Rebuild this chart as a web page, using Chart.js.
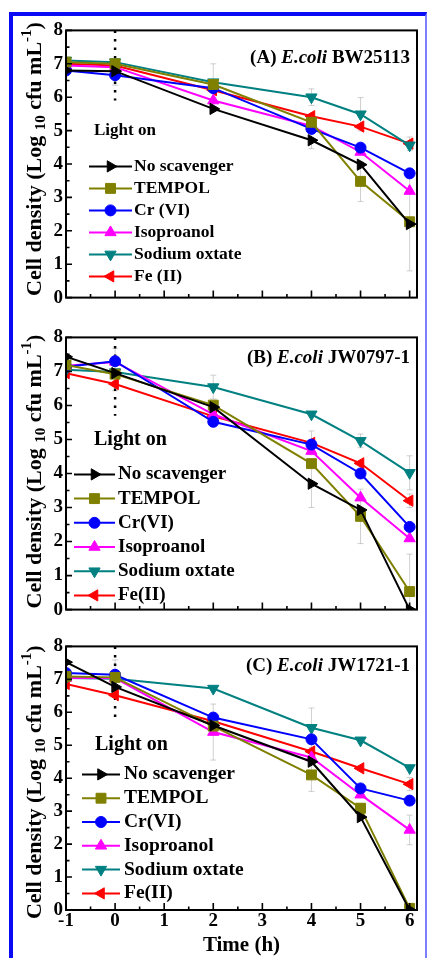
<!DOCTYPE html>
<html>
<head>
<title>Cell density under light</title>
<script src="https://cdn.jsdelivr.net/npm/chart.js"></script>
<style>
  body { margin: 0; background: #fff; width: 428px; height: 958px; overflow: hidden; position: relative; }
  #frame { position: absolute; left: 9px; top: 12px; width: 412px; height: 960px;
           border-left: 4px solid #0a0af5; border-top: 4px solid #0a0af5; border-right: 2px solid #7d7dff; }
  canvas { position: absolute; left: 13px; }
</style>
</head>
<body>
<div id="frame"></div>
<canvas id="panelA" width="412" height="296" style="top:16px"></canvas>
<canvas id="panelB" width="412" height="301" style="top:323px"></canvas>
<canvas id="panelC" width="412" height="326" style="top:632px"></canvas>

<script>
// sampling times (h) and axis ticks
const timeH = [-1, 0, 2, 4, 5, 6];
const timeTicks = [-1, 0, 1, 2, 3, 4, 5, 6];
const densityTicks = [0, 1, 2, 3, 4, 5, 6, 7, 8];
const lightOnTime = 0;

const labelsA = ['No scavenger', 'TEMPOL', 'Cr (VI)', 'Isoproanol', 'Sodium oxtate', 'Fe (II)'];
const labelsB = ['No scavenger', 'TEMPOL', 'Cr(VI)', 'Isoproanol', 'Sodium oxtate', 'Fe(II)'];
const labelsC = ['No scavenger', 'TEMPOL', 'Cr(VI)', 'Isoproanol', 'Sodium oxtate', 'Fe(II)'];

// (A) E.coli BW25113
const a_none   = [6.80, 6.78, 5.65, 4.71, 3.98, 2.20];
const a_tempol = [7.05, 7.00, 6.38, 5.25, 3.48, 2.27];
const a_cr     = [6.80, 6.66, 6.27, 5.05, 4.49, 3.72];
const a_iso    = [6.95, 6.90, 5.90, 5.14, 4.36, 3.19];
const a_oxa    = [7.10, 7.05, 6.45, 6.00, 5.49, 4.56];
const a_fe     = [7.00, 6.95, 6.21, 5.43, 5.12, 4.61];
const a_err_none   = [0, 0, 0, 0.25, 0, 1.4];
const a_err_tempol = [0, 0, 0, 0, 0.6, 0];
const a_err_cr     = [0, 0.3, 0, 0, 0, 0];
const a_err_iso    = [0, 0, 0, 0, 0, 0];
const a_err_oxa    = [0, 0, 0.55, 0.25, 0.5, 0];
const a_err_fe     = [0, 0.2, 0, 0, 0, 0.2];

// (B) E.coli JW0797-1
const b_none   = [7.43, 6.95, 5.95, 3.70, 2.93, 0.00];
const b_tempol = [7.19, 6.92, 6.01, 4.29, 2.74, 0.53];
const b_cr     = [7.14, 7.30, 5.52, 4.85, 4.00, 2.43];
const b_iso    = [7.17, 7.28, 5.74, 4.66, 3.29, 2.09];
const b_oxa    = [7.05, 6.98, 6.54, 5.74, 4.96, 4.02];
const b_fe     = [6.95, 6.63, 5.68, 4.90, 4.30, 3.20];
const b_err_none   = [0, 0, 0, 0.7, 0, 0];
const b_err_tempol = [0, 0, 0, 0, 0.8, 1.1];
const b_err_cr     = [0, 0, 0, 0, 0, 0];
const b_err_iso    = [0, 0.4, 0, 0, 0, 0];
const b_err_oxa    = [0, 0, 0.35, 0, 0.2, 0.5];
const b_err_fe     = [0, 0.2, 0, 0.35, 0, 0.2];

// (C) E.coli JW1721-1
const c_none   = [7.52, 6.77, 5.60, 4.50, 2.82, 0.00];
const c_tempol = [7.09, 7.06, 5.58, 4.10, 3.09, 0.05];
const c_cr     = [7.19, 7.14, 5.84, 5.18, 3.69, 3.32];
const c_iso    = [7.04, 7.04, 5.40, 4.63, 3.50, 2.43];
const c_oxa    = [7.04, 7.02, 6.72, 5.53, 5.15, 4.31];
const c_fe     = [6.86, 6.52, 5.73, 4.81, 4.30, 3.82];
const c_err_none   = [0, 0, 0, 0, 0, 0];
const c_err_tempol = [0, 0, 0, 0.5, 0, 0];
const c_err_cr     = [0, 0.45, 0, 0, 0, 0];
const c_err_iso    = [0, 0, 0.85, 0, 0, 0.45];
const c_err_oxa    = [0, 0, 0, 0.6, 0, 0];
const c_err_fe     = [0, 0, 0, 0, 0, 0.2];

const serif = '"Liberation Serif", "Times New Roman", serif';
const seriesStyle = [
  { color: '#000000', pointStyle: 'triangle', rotation: 90,  radius: 6.5 },
  { color: '#808000', pointStyle: 'rect',     rotation: 0,   radius: 7 },
  { color: '#0000ff', pointStyle: 'circle',   rotation: 0,   radius: 5.5 },
  { color: '#ff00ff', pointStyle: 'triangle', rotation: 0,   radius: 6.5 },
  { color: '#008080', pointStyle: 'triangle', rotation: 180, radius: 6.5 },
  { color: '#ff0000', pointStyle: 'triangle', rotation: -90, radius: 6.5 }
];

const errorBars = {
  id: 'errorBars',
  beforeDatasetsDraw(chart) {
    const { ctx, scales: { x, y } } = chart;
    ctx.save();
    ctx.strokeStyle = 'rgba(150,150,150,0.45)';
    ctx.lineWidth = 1;
    chart.data.datasets.forEach(ds => {
      ds.data.forEach((pt, j) => {
        const e = ds.err[j];
        if (!e) return;
        const px = x.getPixelForValue(pt.x);
        const top = y.getPixelForValue(pt.y + e);
        const bot = y.getPixelForValue(Math.max(pt.y - e, 0));
        ctx.beginPath();
        ctx.moveTo(px, top); ctx.lineTo(px, bot);
        ctx.moveTo(px - 3, top); ctx.lineTo(px + 3, top);
        ctx.moveTo(px - 3, bot); ctx.lineTo(px + 3, bot);
        ctx.stroke();
      });
    });
    // dotted "light on" marker
    const a = chart.chartArea;
    const x0 = x.getPixelForValue(lightOnTime);
    ctx.strokeStyle = '#000';
    ctx.lineWidth = 2.5;
    ctx.setLineDash([2.5, 6]);
    ctx.beginPath();
    ctx.moveTo(x0, a.top);
    ctx.lineTo(x0, y.getPixelForValue(chart.options.panel.markerEnd));
    ctx.stroke();
    ctx.restore();
  }
};

function drawMixed(ctx, parts, x, y) {
  // parts: [text, fontString, dy]
  let cx = x;
  parts.forEach(([t, f, dy]) => {
    ctx.font = f;
    ctx.fillText(t, cx, y + (dy || 0));
    cx += ctx.measureText(t).width;
  });
  return cx - x;
}
function mixedWidth(ctx, parts) {
  let w = 0;
  parts.forEach(([t, f]) => { ctx.font = f; w += ctx.measureText(t).width; });
  return w;
}

const decorations = {
  id: 'decorations',
  afterDraw(chart) {
    const { ctx, chartArea: a, scales: { x, y } } = chart;
    const p = chart.options.panel;
    ctx.save();
    // frame and inward ticks
    ctx.strokeStyle = '#000';
    ctx.lineWidth = 2;
    ctx.strokeRect(a.left, a.top, a.right - a.left, a.bottom - a.top);
    ctx.lineWidth = 1.6;
    ctx.beginPath();
    timeTicks.forEach((t, k) => {
      let px = x.getPixelForValue(t);
      ctx.moveTo(px, a.bottom); ctx.lineTo(px, a.bottom - 7);
      if (k < timeTicks.length - 1) {
        px = x.getPixelForValue(t + 0.5);
        ctx.moveTo(px, a.bottom); ctx.lineTo(px, a.bottom - 3.5);
      }
    });
    densityTicks.forEach((t, k) => {
      let py = y.getPixelForValue(t);
      ctx.moveTo(a.left, py); ctx.lineTo(a.left + 6, py);
      if (k < densityTicks.length - 1) {
        py = y.getPixelForValue(t + 0.5);
        ctx.moveTo(a.left, py); ctx.lineTo(a.left + 3.5, py);
      }
    });
    ctx.stroke();

    ctx.fillStyle = '#000';
    ctx.textBaseline = 'alphabetic';
    // panel title
    const tf = 'bold ' + p.titleSize + 'px ' + serif;
    const tfi = 'italic bold ' + p.titleSize + 'px ' + serif;
    const tparts = [[p.title[0], tf], [p.title[1], tfi], [p.title[2], tf]];
    const tw = mixedWidth(ctx, tparts);
    drawMixed(ctx, tparts, a.right - 7 - tw, a.top + p.titleDy);

    // y-axis title, rotated
    const yf = 'bold 22px ' + serif;
    const ys = 'bold 15px ' + serif;
    const yparts = [['Cell density (Log ', yf, 0], ['10', ys, 4], [' cfu mL', yf, 0], ['-1', ys, -10], [')', yf, 0]];
    const yw = mixedWidth(ctx, yparts);
    ctx.save();
    ctx.translate(28, (a.top + a.bottom) / 2 + p.yTitleShift);
    ctx.rotate(-Math.PI / 2);
    drawMixed(ctx, yparts, -yw / 2, 0);
    ctx.restore();

    // "Light on" note and legend
    ctx.textBaseline = 'middle';
    ctx.font = 'bold ' + p.noteSize + 'px ' + serif;
    ctx.fillText('Light on', a.left + p.noteX, a.top + p.noteY);
    ctx.font = 'bold ' + p.legendSize + 'px ' + serif;
    chart.data.datasets.forEach((ds, i) => {
      const ry = a.top + p.legendTop + i * p.legendStep;
      const st = seriesStyle[i];
      ctx.strokeStyle = st.color;
      ctx.fillStyle = st.color;
      ctx.lineWidth = 2;
      ctx.beginPath();
      ctx.moveTo(a.left + p.lineX0, ry);
      ctx.lineTo(a.left + p.lineX1, ry);
      ctx.stroke();
      ctx.lineWidth = 1;
      Chart.helpers.drawPoint(ctx, { pointStyle: st.pointStyle, rotation: st.rotation, radius: st.radius, borderWidth: 1 },
        a.left + (p.lineX0 + p.lineX1) / 2, ry);
      ctx.fillStyle = '#000';
      ctx.fillText(ds.label, a.left + p.textX, ry);
    });
    ctx.restore();
  }
};

function buildPanel(id, p) {
  const datasets = p.series.map((vals, i) => ({
    label: p.labels[i],
    data: vals.map((v, j) => ({ x: timeH[j], y: v })),
    err: p.errors[i],
    borderColor: seriesStyle[i].color,
    backgroundColor: seriesStyle[i].color,
    borderWidth: 2,
    pointStyle: seriesStyle[i].pointStyle,
    pointRotation: seriesStyle[i].rotation,
    pointRadius: seriesStyle[i].radius,
    pointBorderWidth: 1,
    tension: 0
  }));
  return new Chart(document.getElementById(id), {
    type: 'line',
    data: { datasets },
    plugins: [errorBars, decorations],
    options: {
      responsive: false,
      animation: false,
      panel: p,
      layout: { padding: { top: p.padTop, right: 4, bottom: 0, left: 0 } },
      plugins: { legend: { display: false }, tooltip: { enabled: false } },
      scales: {
        x: {
          type: 'linear', min: -1, max: 6.15,
          grid: { display: false, drawTicks: false },
          border: { display: false },
          afterBuildTicks: s => { s.ticks = timeTicks.map(v => ({ value: v })); },
          ticks: { display: p.showTime, color: '#000', padding: 0, maxRotation: 0, autoSkip: false,
                   font: { family: serif, size: 19, weight: 'bold' } },
          title: { display: p.showTime, text: 'Time (h)', color: '#000', padding: 0,
                   font: { family: serif, size: 21, weight: 'bold' } },
          afterFit: s => { s.height = p.xAxisHeight; }
        },
        y: {
          min: 0, max: 8,
          grid: { display: false, drawTicks: false },
          border: { display: false },
          afterBuildTicks: s => { s.ticks = densityTicks.map(v => ({ value: v })); },
          ticks: { color: '#000', padding: 3, font: { family: serif, size: 19, weight: 'bold' } },
          afterFit: s => { s.width = 53; }
        }
      }
    }
  });
}

buildPanel('panelA', {
  labels: labelsA,
  series: [a_none, a_tempol, a_cr, a_iso, a_oxa, a_fe],
  errors: [a_err_none, a_err_tempol, a_err_cr, a_err_iso, a_err_oxa, a_err_fe],
  title: ['(A) ', 'E.coli', ' BW25113'],
  titleSize: 19, titleDy: 33,
  padTop: 12, xAxisHeight: 10, showTime: false, markerEnd: 5.9, yTitleShift: -5,
  noteSize: 17, noteX: 28, noteY: 100,
  legendSize: 17.5, legendTop: 136, legendStep: 22, lineX0: 23, lineX1: 66, textX: 68
});

buildPanel('panelB', {
  labels: labelsB,
  series: [b_none, b_tempol, b_cr, b_iso, b_oxa, b_fe],
  errors: [b_err_none, b_err_tempol, b_err_cr, b_err_iso, b_err_oxa, b_err_fe],
  title: ['(B) ', 'E.coli', ' JW0797-1'],
  titleSize: 19, titleDy: 26,
  padTop: 12, xAxisHeight: 10, showTime: false, markerEnd: 5.7, yTitleShift: -2,
  noteSize: 20, noteX: 28, noteY: 102,
  legendSize: 19, legendTop: 137, legendStep: 24.2, lineX0: 8, lineX1: 49, textX: 52
});

buildPanel('panelC', {
  labels: labelsC,
  series: [c_none, c_tempol, c_cr, c_iso, c_oxa, c_fe],
  errors: [c_err_none, c_err_tempol, c_err_cr, c_err_iso, c_err_oxa, c_err_fe],
  title: ['(C) ', 'E.coli', ' JW1721-1'],
  titleSize: 19, titleDy: 25,
  padTop: 12, xAxisHeight: 48, showTime: true, markerEnd: 5.7, yTitleShift: 4,
  noteSize: 20, noteX: 29, noteY: 98,
  legendSize: 19.5, legendTop: 128, legendStep: 23.8, lineX0: 16, lineX1: 54, textX: 58
});
</script>
</body>
</html>
